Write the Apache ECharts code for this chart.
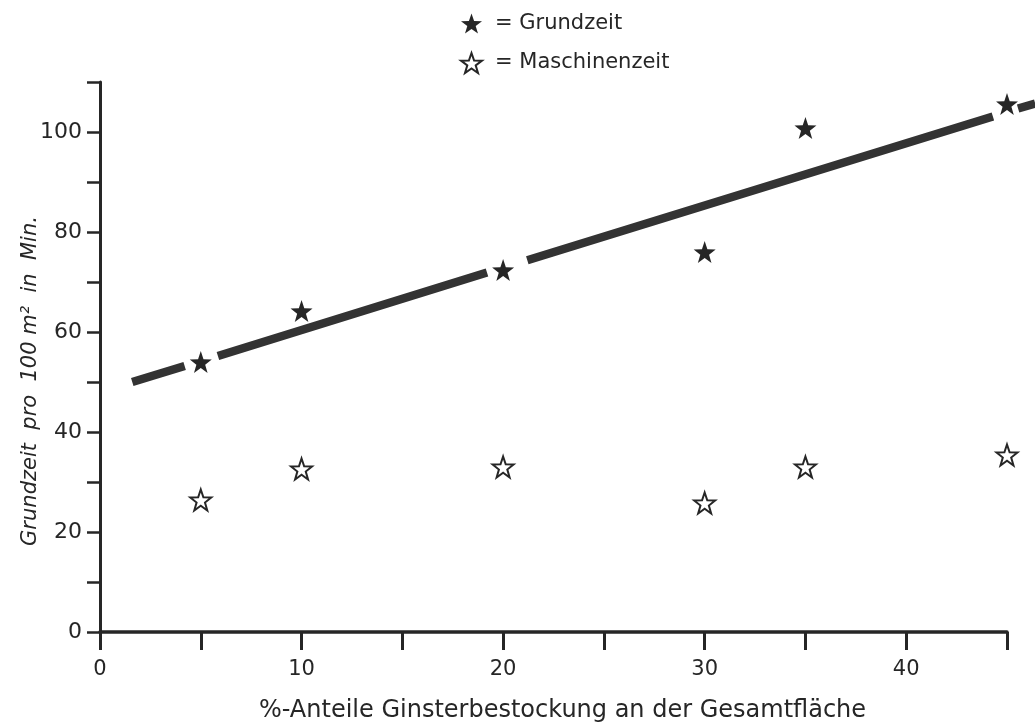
<!DOCTYPE html>
<html>
<head>
<meta charset="utf-8">
<script src="https://cdn.jsdelivr.net/npm/echarts@6/dist/echarts.min.js"></script>
<style>
html,body{margin:0;padding:0;background:#fff;}
#chart{width:1035px;height:722px;}
</style>
</head>
<body>
<div id="chart"></div>
<script>
// Data
var xValues = [5, 10, 20, 30, 35, 45];
var grundzeit = [54, 64.2, 72.4, 76, 100.8, 105.6];
var maschinenzeit = [26.4, 32.6, 33, 25.8, 33, 35.4];
// Trend line (regression) endpoints, broken where it passes markers
var trendX = [1.6, 4.2, null, 5.85, 19.2, null, 21.2, 44.3, null, 45.55, 46.4];
var trendY = [50, 53.2, null, 55.2, 71.9, null, 74.35, 103.1, null, 104.7, 105.7];
var xTicks = [0, 10, 20, 30, 40];
var yTicks = [0, 20, 40, 60, 80, 100];

var STAR = 'path://M10,0 L12.35,6.76 L19.51,6.91 L13.8,11.24 L15.88,18.09 L10,14 L4.12,18.09 L6.2,11.24 L0.49,6.91 L7.65,6.76 Z';
var FONT = 'DejaVu Sans';
var INK = '#262626';

var trendData = trendX.map(function (x, i) { return x === null ? [null, null] : [x, trendY[i]]; });

var GRID_LEFT = 100, GRID_TOP = 82, GRID_BOTTOM = 90, GRID_RIGHT = 28;
var X_MAX = 45;
// second (invisible) grid reaching the right edge with the same scale, so the trend line can run past the axis end
var plotW = 1035 - GRID_LEFT - GRID_RIGHT;
var X_MAX_EXT = X_MAX * (1035 - GRID_LEFT) / plotW;

var chart = echarts.init(document.getElementById('chart'), null, {renderer: 'canvas'});
chart.setOption({
  backgroundColor: '#ffffff',
  animation: false,
  grid: [
    {left: GRID_LEFT, right: GRID_RIGHT, top: GRID_TOP, bottom: GRID_BOTTOM, containLabel: false, outerBoundsMode: 'none'},
    {left: GRID_LEFT, right: 0, top: GRID_TOP, bottom: GRID_BOTTOM, containLabel: false, outerBoundsMode: 'none'}
  ],
  legend: {
    orient: 'vertical',
    left: 455,
    top: 8,
    itemGap: 18,
    itemWidth: 21,
    itemHeight: 21,
    data: ['Grundzeit', 'Maschinenzeit'],
    formatter: function (n) { return '= ' + n; },
    textStyle: {fontFamily: FONT, fontSize: 21, color: INK, padding: [0, 0, 0, 8]}
  },
  xAxis: [{
    type: 'value',
    gridIndex: 0,
    min: 0, max: X_MAX, interval: 5,
    name: '%-Anteile Ginsterbestockung an der Gesamtfläche',
    nameLocation: 'middle',
    nameGap: 67,
    nameMoveOverlap: false,
    nameTextStyle: {fontFamily: FONT, fontSize: 24, color: INK, padding: [0, 0, 0, 18]},
    axisLine: {show: true, onZero: false, lineStyle: {color: INK, width: 3.5}},
    axisTick: {show: true, inside: false, length: 18, lineStyle: {color: INK, width: 3}},
    axisLabel: {
      margin: 27, fontFamily: FONT, fontSize: 21, color: INK,
      formatter: function (v) { return xTicks.indexOf(v) >= 0 ? String(v) : ''; }
    },
    splitLine: {show: false}
  }, {
    type: 'value',
    gridIndex: 1,
    min: 0, max: X_MAX_EXT,
    show: false
  }],
  yAxis: [{
    type: 'value',
    gridIndex: 0,
    min: 0, max: 110, interval: 10,
    name: 'Grundzeit  pro  100 m²  in  Min.',
    nameLocation: 'middle',
    nameGap: 59,
    nameMoveOverlap: false,
    nameTextStyle: {fontFamily: FONT, fontSize: 21, fontStyle: 'italic', color: INK, padding: [0, 48, 0, 0]},
    axisLine: {show: true, onZero: false, lineStyle: {color: INK, width: 3}},
    axisTick: {show: true, inside: false, length: 13, lineStyle: {color: INK, width: 2.5}},
    axisLabel: {
      margin: 18, fontFamily: FONT, fontSize: 22, color: INK,
      formatter: function (v) { return yTicks.indexOf(v) >= 0 ? String(v) : ''; }
    },
    splitLine: {show: false}
  }, {
    type: 'value',
    gridIndex: 1,
    min: 0, max: 110,
    show: false
  }],
  series: [
    {
      name: 'trend',
      type: 'line',
      xAxisIndex: 1,
      yAxisIndex: 1,
      data: trendData,
      connectNulls: false,
      clip: false,
      symbol: 'none',
      silent: true,
      lineStyle: {color: '#333', width: 8.5, cap: 'butt'},
      z: 2
    },
    {
      name: 'Grundzeit',
      type: 'scatter',
      data: xValues.map(function (x, i) { return [x, grundzeit[i]]; }),
      symbol: STAR,
      symbolSize: 22,
      clip: false,
      itemStyle: {color: INK, opacity: 1},
      z: 5
    },
    {
      name: 'Maschinenzeit',
      type: 'scatter',
      data: xValues.map(function (x, i) { return [x, maschinenzeit[i]]; }),
      symbol: STAR,
      symbolSize: 21,
      clip: false,
      itemStyle: {color: '#ffffff', borderColor: INK, borderWidth: 2, opacity: 1},
      z: 5
    }
  ]
});
</script>
</body>
</html>
